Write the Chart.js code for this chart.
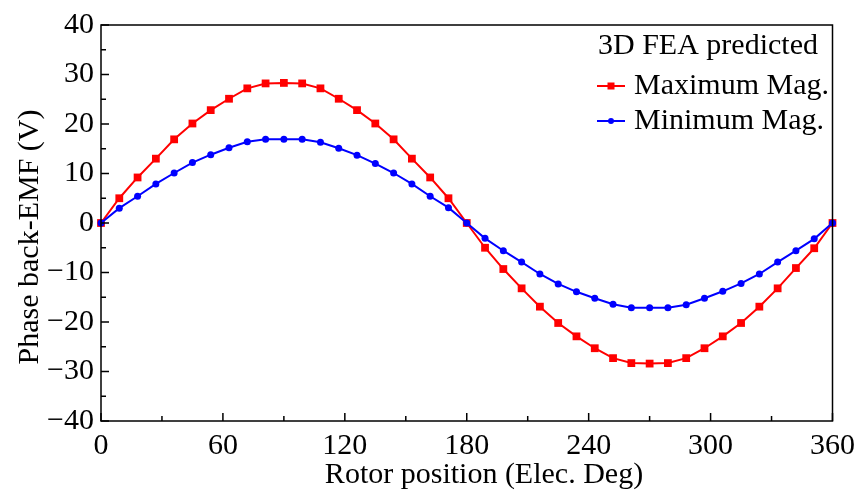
<!DOCTYPE html>
<html>
<head>
<meta charset="utf-8">
<script src="https://cdn.jsdelivr.net/npm/chart.js@4.4.1/dist/chart.umd.min.js"></script>
<style>
  html, body { margin: 0; padding: 0; background: #fff; }
  #wrap { width: 862px; height: 492px; }
</style>
</head>
<body>
<div id="wrap"><canvas id="myCanvas" width="862" height="492"></canvas></div>
<script>
// rotor position, electrical degrees
var angles = [0, 9, 18, 27, 36, 45, 54, 63, 72, 81, 90, 99, 108, 117, 126, 135, 144, 153, 162, 171,
              180, 189, 198, 207, 216, 225, 234, 243, 252, 261, 270, 279, 288, 297, 306, 315, 324, 333, 342, 351, 360];

// 3D FEA predicted back-EMF (V)
var maxMag = [0, 5.0, 9.2, 13.0, 16.9, 20.1, 22.8, 25.1, 27.2, 28.2, 28.3, 28.2, 27.2, 25.1, 22.8, 20.1, 16.9, 13.0, 9.2, 5.0,
              0, -5.0, -9.3, -13.2, -16.9, -20.2, -22.9, -25.3, -27.3, -28.3, -28.4, -28.3, -27.3, -25.3, -22.9, -20.2, -16.9, -13.2, -9.1, -5.1, 0];
var minMag = [0, 3.0, 5.4, 7.9, 10.1, 12.2, 13.8, 15.2, 16.4, 16.9, 16.9, 16.9, 16.3, 15.1, 13.7, 12.0, 10.1, 7.9, 5.4, 3.1,
              0, -3.1, -5.6, -7.9, -10.3, -12.3, -13.9, -15.2, -16.4, -17.1, -17.1, -17.1, -16.5, -15.2, -13.8, -12.2, -10.3, -7.9, -5.6, -3.2, 0];

var xTicks = [0, 60, 120, 180, 240, 300, 360];
var yTicks = [-40, -30, -20, -10, 0, 10, 20, 30, 40];

var xTitle = 'Rotor position (Elec. Deg)';
var yTitle = 'Phase back-EMF (V)';
var legendTitle = '3D FEA predicted';
var FONT = '"Liberation Serif", "Times New Roman", serif';
var FSIZE = 30;

function toPoints(ys) {
    return angles.map(function (a, i) { return { x: a, y: ys[i] }; });
}

// inward ticks, frame box, axis titles and legend inside the plot
var framePlugin = {
    id: 'frame',
    afterDraw: function (chart) {
        var ctx = chart.ctx;
        var a = chart.chartArea;
        var xs = chart.scales.x, ys = chart.scales.y;
        ctx.save();
        ctx.strokeStyle = '#000';
        ctx.lineWidth = 1.5;
        ctx.strokeRect(a.left, a.top, a.right - a.left, a.bottom - a.top);

        ctx.beginPath();
        for (var v = 0; v <= 360; v += 30) {
            var px = xs.getPixelForValue(v);
            var len = (v % 60 === 0) ? 8 : 5;
            ctx.moveTo(px, a.bottom);
            ctx.lineTo(px, a.bottom - len);
        }
        for (var w = -40; w <= 40; w += 5) {
            var py = ys.getPixelForValue(w);
            var l2 = (w % 10 === 0) ? 8 : 5;
            ctx.moveTo(a.left, py);
            ctx.lineTo(a.left + l2, py);
        }
        ctx.stroke();

        ctx.font = FSIZE + 'px ' + FONT;
        ctx.fillStyle = '#000';

        // axis titles
        ctx.textAlign = 'center';
        ctx.textBaseline = 'alphabetic';
        ctx.fillText(xTitle, 484, 483);
        ctx.save();
        ctx.translate(38, 237);
        ctx.rotate(-Math.PI / 2);
        ctx.fillText(yTitle, 0, 0);
        ctx.restore();

        // legend
        ctx.textBaseline = 'middle';
        ctx.textAlign = 'left';
        ctx.fillText(legendTitle, 598, 46);
        var rows = [86, 121];
        chart.data.datasets.forEach(function (ds, i) {
            var y = rows[i];
            ctx.strokeStyle = ds.borderColor;
            ctx.lineWidth = 2;
            ctx.beginPath();
            ctx.moveTo(597, y);
            ctx.lineTo(625, y);
            ctx.stroke();
            ctx.fillStyle = ds.borderColor;
            if (ds.pointStyle === 'rect') {
                ctx.fillRect(611 - 3.5, y - 3.5, 7, 7);
            } else {
                ctx.beginPath();
                ctx.arc(611, y, 3, 0, Math.PI * 2);
                ctx.fill();
            }
            ctx.fillStyle = '#000';
            ctx.fillText(ds.label, 634, y);
        });
        ctx.restore();
    }
};

var ctx = document.getElementById('myCanvas').getContext('2d');
var myChart = new Chart(ctx, {
    type: 'line',
    data: {
        datasets: [{
            label: 'Maximum Mag.',
            data: toPoints(maxMag),
            borderColor: '#ff0000',
            backgroundColor: '#ff0000',
            borderWidth: 2,
            pointStyle: 'rect',
            pointRadius: 5.5,
            pointBorderWidth: 0,
            order: 1,
            clip: false
        }, {
            label: 'Minimum Mag.',
            data: toPoints(minMag),
            borderColor: '#0000ff',
            backgroundColor: '#0000ff',
            borderWidth: 2,
            pointStyle: 'circle',
            pointRadius: 3.5,
            pointBorderWidth: 0,
            order: 0,
            clip: false
        }]
    },
    options: {
        responsive: false,
        animation: false,
        layout: { padding: { top: 24, right: 26, left: 0, bottom: 0 } },
        plugins: {
            legend: { display: false },
            tooltip: { enabled: false }
        },
        scales: {
            x: {
                type: 'linear',
                min: 0,
                max: 360,
                afterBuildTicks: function (scale) {
                    scale.ticks = xTicks.map(function (v) { return { value: v }; });
                },
                afterFit: function (scale) { scale.height = 71; },
                grid: { display: false, drawTicks: false },
                border: { display: false },
                ticks: {
                    color: '#000',
                    padding: 7,
                    maxRotation: 0,
                    font: { family: FONT, size: FSIZE }
                },
                title: { display: false }
            },
            y: {
                min: -40,
                max: 40,
                afterBuildTicks: function (scale) {
                    scale.ticks = yTicks.map(function (v) { return { value: v }; });
                },
                afterFit: function (scale) { scale.width = 101; },
                grid: { display: false, drawTicks: false },
                border: { display: false },
                ticks: {
                    color: '#000',
                    padding: 7,
                    font: { family: FONT, size: FSIZE },
                    callback: function (v) { return String(v).replace('-', '\u2212'); }
                },
                title: { display: false }
            }
        }
    },
    plugins: [framePlugin]
});
</script>
</body>
</html>
